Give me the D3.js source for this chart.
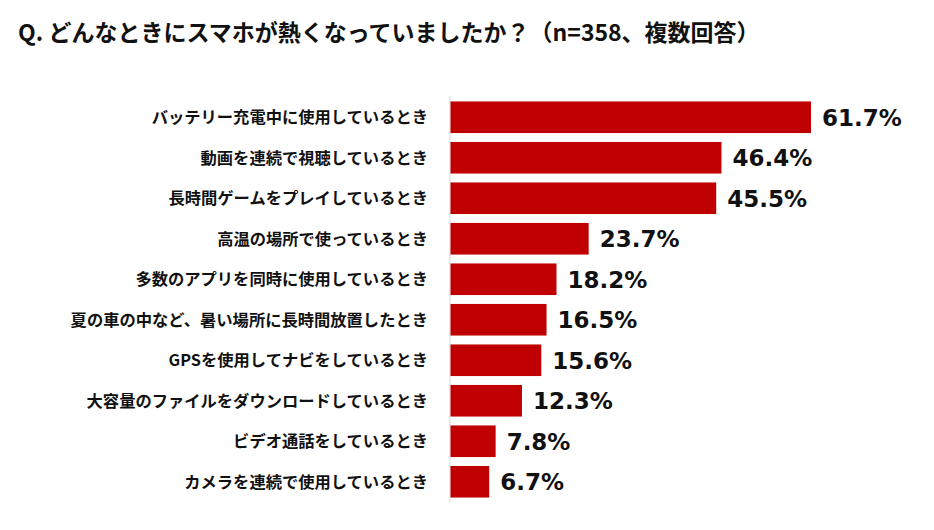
<!DOCTYPE html>
<html><head><meta charset="utf-8">
<script src="https://cdn.jsdelivr.net/npm/d3@7"></script>
<style>
body{margin:0;background:#fff;}
svg{display:block;}
</style></head>
<body>
<svg id="chart" width="934" height="530"></svg>
<script>
const title = "Q. どんなときにスマホが熱くなっていましたか？（n=358、複数回答）";
const categories = [
  "バッテリー充電中に使用しているとき",
  "動画を連続で視聴しているとき",
  "長時間ゲームをプレイしているとき",
  "高温の場所で使っているとき",
  "多数のアプリを同時に使用しているとき",
  "夏の車の中など、暑い場所に長時間放置したとき",
  "GPSを使用してナビをしているとき",
  "大容量のファイルをダウンロードしているとき",
  "ビデオ通話をしているとき",
  "カメラを連続で使用しているとき"
];
const values = [61.7, 46.4, 45.5, 23.7, 18.2, 16.5, 15.6, 12.3, 7.8, 6.7];

const svg = d3.select("#chart");
const jp = "'Noto Sans CJK JP','Noto Sans',sans-serif";

svg.append("text").attr("x", 18).attr("y", 41)
  .attr("font-family", jp).attr("font-weight", 700).attr("font-size", 23)
  .attr("fill", "#111").text(title);

const x0 = 450;
const x = d3.scaleLinear().domain([0, 61.7]).range([x0, 811]);
const y = d3.scaleBand().domain(categories).range([97, 502]).paddingInner(0.22).paddingOuter(0.11);

svg.append("line").attr("x1", x0).attr("x2", x0).attr("y1", 96).attr("y2", 502)
  .attr("stroke", "#d9d9d9").attr("stroke-width", 1);

const g = svg.append("g");
g.selectAll("rect").data(categories).join("rect")
  .attr("x", x0 + 0.5).attr("y", d => y(d))
  .attr("width", (d, i) => x(values[i]) - x0 - 0.5)
  .attr("height", y.bandwidth())
  .attr("fill", "#c00000");

g.selectAll("text.cat").data(categories).join("text").attr("class", "cat")
  .attr("x", 428).attr("y", d => y(d) + y.bandwidth() / 2)
  .attr("dy", "0.36em").attr("text-anchor", "end")
  .attr("font-family", jp).attr("font-weight", 700).attr("font-size", 16.3)
  .attr("fill", "#111").text(d => d);

g.selectAll("text.val").data(categories).join("text").attr("class", "val")
  .attr("x", (d, i) => x(values[i]) + 11).attr("y", d => y(d) + y.bandwidth() / 2)
  .attr("dy", "0.36em")
  .attr("font-family", "'DejaVu Sans',Verdana,sans-serif").attr("font-weight", 700).attr("font-size", 23)
  .attr("fill", "#111").text((d, i) => values[i].toFixed(1) + "%");
</script>
</body></html>
